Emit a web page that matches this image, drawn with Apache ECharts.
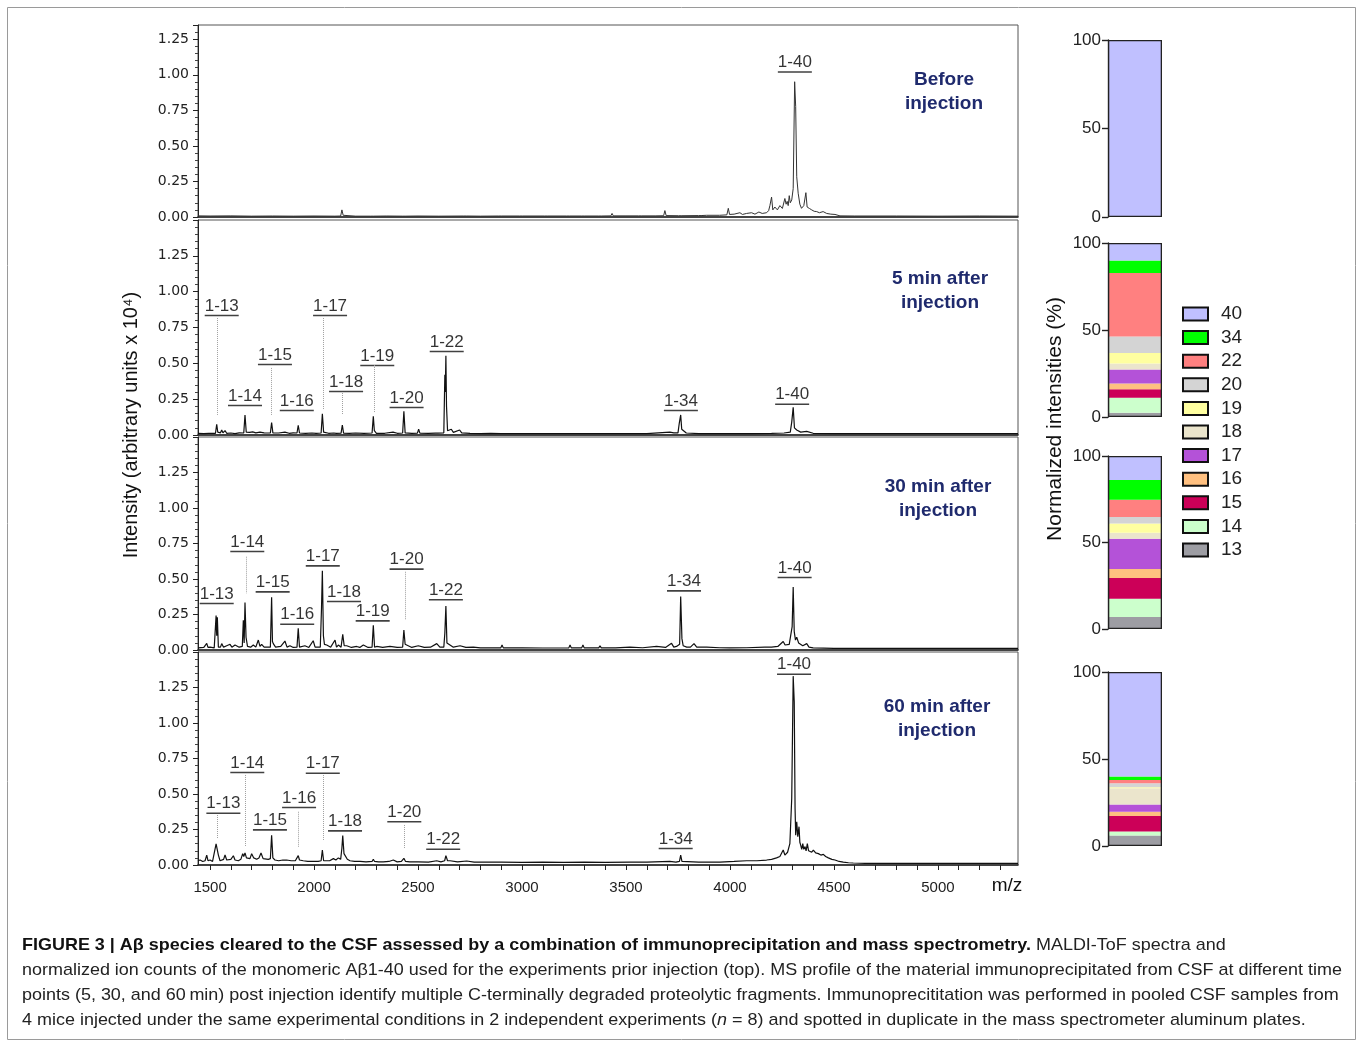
<!DOCTYPE html>
<html>
<head>
<meta charset="utf-8">
<script src="https://cdn.jsdelivr.net/npm/echarts@6/dist/echarts.min.js"></script>
<style>html,body{margin:0;padding:0;background:#fff}#c{width:1357px;height:1041px}</style>
</head>
<body>
<div id="c"></div>
<script>
// ---------------- DATA ----------------
const panelNames = ['Before\ninjection', '5 min after\ninjection', '30 min after\ninjection', '60 min after\ninjection'];
const xTickLabels = [1500, 2000, 2500, 3000, 3500, 4000, 4500, 5000];
const yTickLabels = [0, 0.25, 0.5, 0.75, 1.0, 1.25];
const barTicks = [0, 50, 100];

const spectrumBefore = [[1442,0.008],[1500,0.007],[1600,0.008],[1700,0.006],[1800,0.007],[1900,0.006],[2000,0.007],[2100,0.006],[2128,0.007],[2134,0.05],[2140,0.012],[2148,0.007],[2200,0.006],[2272,0.006],[2279,0.016],[2286,0.006],[2350,0.007],[2426,0.006],[2432,0.016],[2438,0.006],[2500,0.007],[2600,0.006],[2720,0.007],[2726,0.013],[2732,0.007],[2800,0.006],[2888,0.007],[2894,0.015],[2900,0.007],[2989,0.007],[2995,0.015],[3001,0.007],[3109,0.007],[3115,0.012],[3121,0.007],[3215,0.007],[3221,0.012],[3227,0.007],[3287,0.007],[3293,0.015],[3299,0.007],[3369,0.007],[3375,0.015],[3381,0.007],[3427,0.008],[3433,0.025],[3439,0.008],[3500,0.008],[3561,0.008],[3567,0.015],[3573,0.008],[3640,0.008],[3681,0.009],[3687,0.045],[3693,0.01],[3753,0.009],[3759,0.02],[3765,0.009],[3849,0.01],[3855,0.018],[3861,0.01],[3888,0.012],[3950,0.012],[3985,0.015],[3992,0.061],[3998,0.018],[4020,0.02],[4048,0.03],[4060,0.018],[4080,0.025],[4104,0.03],[4120,0.02],[4139,0.035],[4155,0.025],[4176,0.03],[4186,0.045],[4192,0.08],[4200,0.14],[4206,0.05],[4216,0.07],[4228,0.05],[4240,0.08],[4252,0.06],[4264,0.13],[4270,0.09],[4275,0.11],[4280,0.08],[4285,0.15],[4290,0.1],[4297,0.12],[4304,0.2],[4311,0.951],[4316,0.776],[4321,0.283],[4328,0.167],[4336,0.09],[4344,0.061],[4355,0.08],[4365,0.171],[4371,0.07],[4382,0.06],[4393,0.05],[4405,0.04],[4417,0.038],[4430,0.03],[4448,0.038],[4465,0.025],[4485,0.02],[4505,0.018],[4529,0.008],[4600,0.007],[4800,0.007],[5000,0.006],[5200,0.007],[5385,0.006]];

const spectrum5min = [[1442,0.012],[1470,0.01],[1494,0.012],[1500,0.022],[1506,0.012],[1526,0.012],[1532,0.075],[1537,0.02],[1550,0.015],[1556,0.035],[1562,0.015],[1572,0.03],[1580,0.012],[1600,0.014],[1620,0.01],[1640,0.015],[1662,0.014],[1668,0.14],[1674,0.02],[1690,0.018],[1705,0.022],[1720,0.015],[1740,0.02],[1760,0.015],[1790,0.014],[1796,0.087],[1802,0.015],[1830,0.014],[1860,0.02],[1880,0.012],[1900,0.015],[1918,0.014],[1924,0.068],[1930,0.014],[1960,0.012],[1990,0.014],[2010,0.012],[2034,0.014],[2040,0.148],[2046,0.02],[2070,0.012],[2095,0.014],[2101,0.025],[2107,0.012],[2130,0.013],[2136,0.07],[2142,0.013],[2170,0.012],[2200,0.014],[2240,0.012],[2279,0.014],[2285,0.13],[2290,0.03],[2300,0.012],[2340,0.012],[2380,0.02],[2400,0.012],[2426,0.014],[2432,0.165],[2438,0.015],[2470,0.012],[2497,0.013],[2503,0.04],[2509,0.013],[2550,0.012],[2584,0.013],[2590,0.025],[2596,0.013],[2624,0.015],[2629,0.42],[2631,0.3],[2634,0.553],[2637,0.2],[2642,0.03],[2650,0.02],[2660,0.04],[2670,0.018],[2700,0.035],[2710,0.015],[2750,0.012],[2800,0.01],[2850,0.012],[2898,0.01],[2904,0.022],[2910,0.01],[3000,0.01],[3100,0.009],[3225,0.009],[3231,0.022],[3237,0.009],[3300,0.01],[3400,0.009],[3500,0.01],[3600,0.01],[3711,0.02],[3730,0.015],[3750,0.015],[3756,0.08],[3763,0.14],[3768,0.04],[3772,0.03],[3790,0.014],[3850,0.01],[3950,0.01],[3995,0.01],[4000,0.018],[4006,0.01],[4100,0.01],[4200,0.012],[4260,0.014],[4290,0.02],[4297,0.09],[4304,0.193],[4310,0.05],[4321,0.035],[4340,0.02],[4369,0.025],[4400,0.012],[4500,0.01],[4700,0.009],[4900,0.01],[5100,0.009],[5385,0.01]];

const spectrum30min = [[1442,0.015],[1470,0.018],[1484,0.047],[1490,0.018],[1500,0.02],[1520,0.015],[1529,0.242],[1532,0.1],[1535,0.23],[1540,0.02],[1550,0.02],[1556,0.045],[1565,0.02],[1580,0.03],[1588,0.018],[1596,0.04],[1605,0.02],[1620,0.035],[1640,0.02],[1655,0.025],[1660,0.21],[1664,0.05],[1668,0.334],[1673,0.09],[1680,0.025],[1695,0.02],[1708,0.035],[1720,0.02],[1732,0.07],[1740,0.025],[1748,0.04],[1760,0.02],[1790,0.02],[1796,0.372],[1800,0.06],[1804,0.045],[1815,0.02],[1840,0.025],[1860,0.063],[1870,0.02],[1884,0.03],[1900,0.018],[1918,0.02],[1924,0.153],[1930,0.02],[1956,0.03],[1975,0.018],[1996,0.065],[2005,0.02],[2013,0.02],[2030,0.02],[2036,0.3],[2040,0.558],[2045,0.1],[2050,0.04],[2061,0.035],[2080,0.02],[2101,0.07],[2108,0.02],[2117,0.035],[2130,0.02],[2138,0.11],[2145,0.03],[2157,0.03],[2180,0.018],[2205,0.025],[2220,0.018],[2237,0.035],[2260,0.018],[2279,0.02],[2285,0.174],[2291,0.02],[2301,0.025],[2330,0.018],[2365,0.025],[2400,0.018],[2426,0.02],[2432,0.141],[2438,0.04],[2445,0.035],[2470,0.018],[2501,0.03],[2530,0.018],[2560,0.02],[2590,0.045],[2605,0.02],[2624,0.02],[2629,0.12],[2634,0.31],[2639,0.05],[2645,0.04],[2670,0.02],[2702,0.03],[2730,0.018],[2766,0.02],[2800,0.015],[2850,0.015],[2898,0.015],[2904,0.035],[2910,0.015],[2990,0.015],[2995,0.022],[3001,0.015],[3100,0.014],[3225,0.015],[3231,0.035],[3237,0.015],[3287,0.015],[3293,0.035],[3299,0.015],[3369,0.015],[3375,0.03],[3381,0.015],[3450,0.015],[3519,0.02],[3580,0.016],[3647,0.025],[3690,0.018],[3719,0.047],[3730,0.02],[3743,0.025],[3758,0.04],[3763,0.376],[3769,0.08],[3775,0.03],[3792,0.02],[3810,0.02],[3827,0.045],[3840,0.02],[3888,0.02],[3950,0.016],[4000,0.015],[4080,0.016],[4168,0.02],[4200,0.02],[4230,0.025],[4256,0.06],[4265,0.035],[4272,0.035],[4285,0.04],[4299,0.165],[4304,0.443],[4309,0.13],[4315,0.07],[4321,0.09],[4330,0.05],[4337,0.06],[4350,0.03],[4369,0.045],[4380,0.02],[4400,0.015],[4500,0.012],[4700,0.012],[4900,0.012],[5100,0.012],[5385,0.012]];

const spectrum60min = [[1442,0.03],[1452,0.035],[1465,0.025],[1476,0.03],[1484,0.07],[1490,0.03],[1500,0.035],[1512,0.025],[1520,0.035],[1529,0.148],[1540,0.07],[1548,0.03],[1556,0.03],[1565,0.04],[1572,0.07],[1580,0.035],[1588,0.03],[1600,0.04],[1612,0.065],[1620,0.035],[1636,0.03],[1648,0.04],[1657,0.08],[1662,0.06],[1668,0.085],[1675,0.05],[1684,0.055],[1692,0.045],[1700,0.08],[1710,0.05],[1724,0.04],[1735,0.05],[1745,0.085],[1755,0.045],[1764,0.035],[1780,0.04],[1790,0.045],[1796,0.21],[1802,0.05],[1812,0.035],[1830,0.03],[1850,0.035],[1868,0.035],[1890,0.03],[1910,0.03],[1918,0.04],[1924,0.066],[1930,0.035],[1948,0.03],[1970,0.025],[1996,0.025],[2020,0.025],[2034,0.03],[2040,0.106],[2046,0.03],[2053,0.025],[2075,0.03],[2093,0.045],[2105,0.035],[2117,0.05],[2128,0.04],[2134,0.12],[2138,0.207],[2144,0.08],[2149,0.07],[2160,0.04],[2173,0.03],[2195,0.025],[2221,0.025],[2250,0.022],[2279,0.025],[2285,0.04],[2291,0.025],[2310,0.022],[2333,0.022],[2360,0.025],[2381,0.035],[2400,0.022],[2420,0.025],[2432,0.047],[2440,0.025],[2461,0.022],[2500,0.022],[2550,0.02],[2590,0.03],[2610,0.022],[2628,0.03],[2634,0.066],[2642,0.03],[2654,0.03],[2690,0.022],[2734,0.028],[2770,0.02],[2814,0.02],[2900,0.02],[3000,0.018],[3100,0.02],[3200,0.018],[3300,0.02],[3400,0.018],[3519,0.02],[3600,0.02],[3711,0.025],[3740,0.02],[3757,0.025],[3763,0.07],[3769,0.025],[3772,0.02],[3850,0.02],[3952,0.02],[4020,0.025],[4080,0.03],[4130,0.03],[4176,0.035],[4200,0.04],[4224,0.05],[4240,0.06],[4256,0.106],[4264,0.07],[4277,0.09],[4283,0.08],[4288,0.15],[4297,0.47],[4304,1.33],[4309,1.15],[4313,0.4],[4316,0.21],[4321,0.305],[4326,0.2],[4332,0.27],[4336,0.16],[4340,0.14],[4345,0.11],[4350,0.15],[4355,0.11],[4361,0.13],[4366,0.1],[4372,0.15],[4378,0.1],[4385,0.1],[4393,0.09],[4401,0.105],[4412,0.085],[4425,0.08],[4437,0.07],[4449,0.075],[4460,0.06],[4473,0.05],[4490,0.04],[4505,0.035],[4525,0.025],[4545,0.02],[4570,0.016],[4593,0.014],[4650,0.012],[4800,0.012],[5000,0.012],[5200,0.012],[5385,0.012]];

// peak annotations: [label, m/z, height of label anchor (underline)]
const labelsBefore = [['1-40',4312,1.03]];
const labels5min = [['1-13',1556,0.844],['1-14',1668,0.216],['1-15',1812,0.502],['1-16',1917,0.181],['1-17',2077,0.844],['1-18',2154,0.314],['1-19',2304,0.495],['1-20',2445,0.202],['1-22',2638,0.593],['1-34',3764,0.181],['1-40',4299,0.225]];
const labels30min = [['1-13',1532,0.338],['1-14',1679,0.704],['1-15',1801,0.42],['1-16',1919,0.192],['1-17',2042,0.603],['1-18',2144,0.352],['1-19',2282,0.216],['1-20',2445,0.58],['1-22',2634,0.364],['1-34',3779,0.427],['1-40',4311,0.521]];
const labels60min = [['1-13',1564,0.375],['1-14',1679,0.662],['1-15',1788,0.258],['1-16',1928,0.415],['1-17',2042,0.657],['1-18',2149,0.251],['1-20',2434,0.315],['1-22',2621,0.122],['1-34',3739,0.127],['1-40',4308,1.354]];
// dotted leader lines: [m/z, top, bottom]
const leadersBefore = [];
const leaders5min = [[1535,0.816,0.14],[1796,0.468,0.14],[2045,0.816,0.174],[2136,0.293,0.14],[2288,0.488,0.16]];
const leaders30min = [[1673,0.657,0.4],[2437,0.551,0.211]];
const leaders60min = [[1535,0.352,0.188],[1668,0.634,0.129],[1924,0.375,0.125],[2043,0.634,0.176],[2434,0.282,0.118]];

// normalized intensities (%), bottom to top
const species = ['13','14','15','16','17','18','19','20','22','34','40'];
const pctBefore = [0,0,0,0,0,0,0,0,0,0,100];
const pct5min  = [2.5,8.5,5,3.2,8.1,3.5,6,9.4,36.5,7.3,10];
const pct30min = [7,10.5,12,5.2,17.5,3.4,5.4,3.8,9.9,11.4,13.9];
const pct60min = [6.1,2.3,8.8,2.5,4.2,9.3,0.5,2.3,1.9,2.1,60];
const legendOrder = ['40','34','22','20','19','18','17','16','15','14','13'];

// ---------------- STYLE / LAYOUT ----------------
const speciesColors = {'13':'#9d9da3','14':'#ccffcc','15':'#cc0058','16':'#ffc080','17':'#b452d8','18':'#ebe5cc','19':'#ffffa0','20':'#d4d4d4','22':'#ff8080','34':'#00ff00','40':'#c0c0ff'};
const spectra = [spectrumBefore, spectrum5min, spectrum30min, spectrum60min];
const labelSets = [labelsBefore, labels5min, labels30min, labels60min];
const leaderSets = [leadersBefore, leaders5min, leaders30min, leaders60min];
const pctSets = [pctBefore, pct5min, pct30min, pct60min];
const specGrids = [{top:25,height:192,max:1.35},{top:220,height:215,max:1.5},{top:437,height:213,max:1.5},{top:652,height:213,max:1.5}];
const barGrids = [{top:40,height:177},{top:243,height:174},{top:456,height:173},{top:672,height:174}];
const titlePos = [[944,92],[940,291],[938,499],[937,719]];
const FONT = 'Liberation Sans, Arial, sans-serif';
const xMin = 1442, xMax = 5385;
const xMinorTicks = [];
for (let v = 1500; v <= 5300; v += 100) xMinorTicks.push(v);

const grid = [], xAxis = [], yAxis = [], series = [];
specGrids.forEach((g, i) => {
  grid.push({left:198, top:g.top, width:820, height:g.height, show:true, borderColor:'#555', borderWidth:1, backgroundColor:'transparent'});
  const last = i === 3;
  xAxis.push({type:'value', gridIndex:i, min:xMin, max:xMax,
    axisLine:{show:true, onZero:false, lineStyle:{color:'#222', width:1.6}},
    axisTick:{show:last, customValues:xMinorTicks, length:5, lineStyle:{color:'#222'}},
    axisLabel:{show:last, customValues:xTickLabels, formatter:v=>String(v), margin:15, fontSize:15, fontFamily:FONT, color:'#222'},
    splitLine:{show:false}});
  yAxis.push({type:'value', gridIndex:i, min:0, max:g.max, interval:0.25,
    axisLine:{show:true, lineStyle:{color:'#222', width:1}},
    axisTick:{show:true, length:5, lineStyle:{color:'#222'}},
    minorTick:{show:true, splitNumber:5, length:3, lineStyle:{color:'#444'}},
    axisLabel:{customValues:yTickLabels, formatter:v=>v.toFixed(2), fontSize:14, fontFamily:'DejaVu Sans, Verdana, sans-serif', color:'#222', margin:9},
    splitLine:{show:false}});
  series.push({type:'line', xAxisIndex:i, yAxisIndex:i, data:spectra[i], showSymbol:false, symbol:'none',
    lineStyle:{color:i===0?'#333':'#111', width:i===0?1:1.2}, silent:true, z:2});
  series.push({type:'scatter', xAxisIndex:i, yAxisIndex:i, symbolSize:1, itemStyle:{color:'rgba(0,0,0,0)'}, silent:true, z:4,
    data:labelSets[i].map(l=>({name:l[0], value:[l[1], l[2]]})),
    label:{show:true, position:'top', distance:-3, formatter:p=>'{t|'+p.name+'}\n{u|}',
      rich:{t:{fontSize:17, fontFamily:FONT, color:'#000', lineHeight:17, align:'center'},
            u:{width:34, height:1.6, lineHeight:2, backgroundColor:'#111', align:'center'}}},
    markLine:{symbol:['none','none'], silent:true, animation:false, label:{show:false},
      lineStyle:{type:'dotted', color:'#a0a0a0', width:1},
      data:leaderSets[i].map(l=>[{coord:[l[0], l[1]]},{coord:[l[0], l[2]]}])}});
});
barGrids.forEach((g, j) => {
  const k = 4 + j;
  grid.push({left:1108, top:g.top, width:54, height:g.height});
  xAxis.push({type:'category', gridIndex:k, data:['%'], show:false});
  yAxis.push({type:'value', gridIndex:k, min:0, max:100, interval:50,
    axisLine:{show:true, lineStyle:{color:'#222', width:1.4}},
    axisTick:{show:true, length:6, lineStyle:{color:'#222', width:1.4}},
    axisLabel:{customValues:barTicks, fontSize:17, fontFamily:FONT, color:'#222', margin:7},
    splitLine:{show:false}});
  species.forEach((s, n) => {
    series.push({type:'bar', name:s, xAxisIndex:k, yAxisIndex:k, stack:'p'+j, data:[pctSets[j][n]],
      barWidth:'100%', itemStyle:{color:speciesColors[s]}, silent:true});
  });
  series.push({type:'bar', xAxisIndex:k, yAxisIndex:k, data:[100], barWidth:'100%', barGap:'-100%', silent:true, z:3,
    itemStyle:{color:'rgba(0,0,0,0)', borderColor:'#222', borderWidth:1.3}});
});

const cap = [
  ['{b|FIGURE 3 | Aβ species cleared to the CSF assessed by a combination of immunoprecipitation and mass spectrometry.}{n| MALDI-ToF spectra and}'],
  ['{n|normalized ion counts of the monomeric Aβ1-40 used for the experiments prior injection (top). MS profile of the material immunoprecipitated from CSF at different time}'],
  ['{n|points (5, 30, and 60\u2009min) post injection identify multiple C-terminally degraded proteolytic fragments. Immunoprecititation was performed in pooled CSF samples from}'],
  ['{n|4 mice injected under the same experimental conditions in 2 independent experiments (}{i|n}{n| = 8) and spotted in duplicate in the mass spectrometer aluminum plates.}']
];
const ctx = document.createElement('canvas').getContext('2d');
ctx.font = '17px Liberation Sans';
const refW = ctx.measureText('normalized ion counts of the monomeric Aβ1-40 used for the experiments prior injection (top). MS profile of the material immunoprecipitated from CSF at different time').width;
const capScale = 1320 / refW;

const graphic = [
  {type:'rect', shape:{x:7.5, y:7.5, width:1348, height:1032}, style:{fill:'none', stroke:'#9a9a9a', lineWidth:1}, silent:true},
  {type:'text', x:131, y:425, rotation:Math.PI/2, style:{text:'Intensity (arbitrary units x 10\u2074)', fontSize:20, fontFamily:FONT, fill:'#111', align:'center', verticalAlign:'middle'}, silent:true},
  {type:'text', x:1055, y:419, rotation:Math.PI/2, style:{text:'Normalized intensities (%)', fontSize:21, fontFamily:FONT, fill:'#111', align:'center', verticalAlign:'middle'}, silent:true},
  {type:'text', x:1007, y:886, style:{text:'m/z', fontSize:19, fontFamily:FONT, fill:'#111', align:'center', verticalAlign:'middle'}, silent:true}
];
titlePos.forEach((p, i) => graphic.push({type:'text', x:p[0], y:p[1], silent:true,
  style:{text:panelNames[i], fontSize:19, fontWeight:'bold', fontFamily:FONT, fill:'#1f2a6d', align:'center', verticalAlign:'middle', lineHeight:24}}));
cap.forEach((c, i) => graphic.push({type:'text', x:22, y:945 + i*25, scaleX:capScale, silent:true,
  style:{text:c[0], verticalAlign:'middle', fontSize:17, fontFamily:FONT, fill:'#222',
    rich:{b:{fontSize:17, fontWeight:'bold', fontFamily:FONT, fill:'#111'}, n:{fontSize:17, fontFamily:FONT, fill:'#222'}, i:{fontSize:17, fontStyle:'italic', fontFamily:FONT, fill:'#222'}}}}));

const chart = echarts.init(document.getElementById('c'), null, {renderer:'canvas'});
chart.setOption({
  animation:false,
  backgroundColor:'#ffffff',
  grid, xAxis, yAxis, series, graphic,
  legend:{orient:'vertical', left:1182, top:304.5, padding:0, data:legendOrder, icon:'rect', itemWidth:25, itemHeight:13, itemGap:4.6,
    selectedMode:false, itemStyle:{borderColor:'#111', borderWidth:2},
    textStyle:{fontSize:19, fontFamily:FONT, color:'#222', padding:[0,0,0,8]}}
});
</script>
</body>
</html>
